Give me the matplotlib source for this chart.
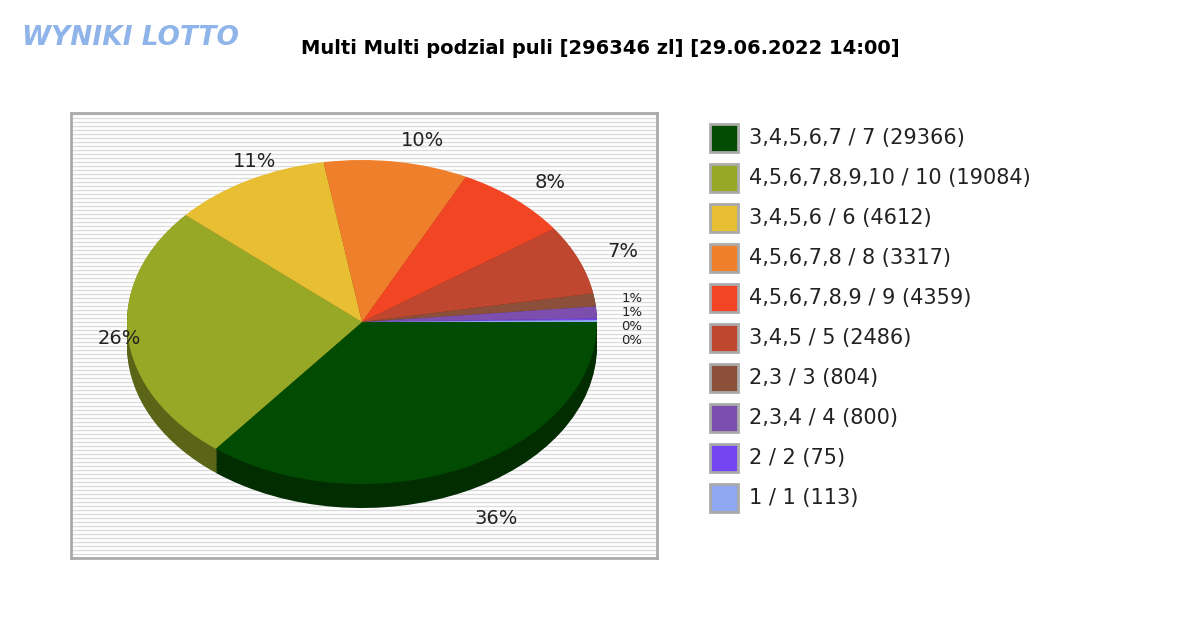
import matplotlib
matplotlib.use("Agg")
import matplotlib.pyplot as plt
import matplotlib.colors as mc
import numpy as np

labels = ["3,4,5,6,7 / 7 (29366)", "4,5,6,7,8,9,10 / 10 (19084)", "3,4,5,6 / 6 (4612)",
          "4,5,6,7,8 / 8 (3317)", "4,5,6,7,8,9 / 9 (4359)", "3,4,5 / 5 (2486)",
          "2,3 / 3 (804)", "2,3,4 / 4 (800)", "2 / 2 (75)", "1 / 1 (113)"]
shares = [36, 26, 11, 10, 8, 7, 1.3, 1.2, 0.15, 0.2]
pct_labels = ["36%", "26%", "11%", "10%", "8%", "7%", "1%", "1%", "0%", "0%"]
colors = ["#024b02", "#97a826", "#e8be33", "#ef7f2a", "#f24523", "#c0472f",
          "#8b4f3a", "#7c4fae", "#7446f2", "#8fa7f0"]
title = "Multi Multi podzial puli [296346 zl] [29.06.2022 14:00]"

fig = plt.figure(figsize=(12, 6.3), dpi=100)
fig.text(600/1200, 1-48/630, title, ha="center", va="center", fontsize=14, fontweight="bold")
fig.text(22/1200, 1-38/630, "WYNIKI LOTTO", ha="left", va="center", fontsize=19,
         fontweight="bold", color="#8fb4ea", fontstyle="italic")

ax = fig.add_axes([71/1200, 72/630, 586/1200, 445/630])
RX, RY = 235, 162
W, H = 586/RX, 445/RY
ax.set_facecolor("white")
for y in np.arange(0, H, 4/RY):
    ax.axhline(y, color="#dcdcdc", lw=1.0, zorder=0)

cx, cy = 291/RX, 236/RY
dark = [tuple(np.array(mc.to_rgb(c))*0.6) for c in colors]
depth = 24/RY
for off in np.linspace(depth, 0.005, 12):
    ax.pie(shares, colors=dark, startangle=0, counterclock=False,
           center=(cx, cy-off), radius=1, frame=True,
           wedgeprops=dict(linewidth=0))
wedges, texts = ax.pie(shares, colors=colors, startangle=0, counterclock=False,
                       center=(cx, cy), radius=1, frame=True, labels=pct_labels,
                       labeldistance=1.13, textprops=dict(fontsize=14, color="#222222"),
                       wedgeprops=dict(linewidth=0))
texts[0].set_position((cx + 0.48, cy - 1.21))
for k, t in enumerate(texts[6:]):
    t.set_fontsize(9.5)
    t.set_position(((632-71)/RX, (558-(298 + 14*k))/RY))
    t.set_ha("center"); t.set_va("center")
ax.set_xlim(0, W); ax.set_ylim(0, H); ax.set_aspect("auto")
ax.set_xticks([]); ax.set_yticks([])
for s in ax.spines.values():
    s.set_color("#aaaaaa"); s.set_linewidth(2)

for i, (lab, c) in enumerate(zip(labels, colors)):
    y = 138 + i*40
    fig.patches.append(plt.Rectangle((710/1200, 1-(y+14)/630), 28/1200, 28/630,
                       transform=fig.transFigure, facecolor=c, edgecolor="#aaaaaa", lw=2))
    fig.text(749/1200, 1-y/630, lab, ha="left", va="center", fontsize=15, color="#222222")

fig.savefig("out.png", dpi=100)
